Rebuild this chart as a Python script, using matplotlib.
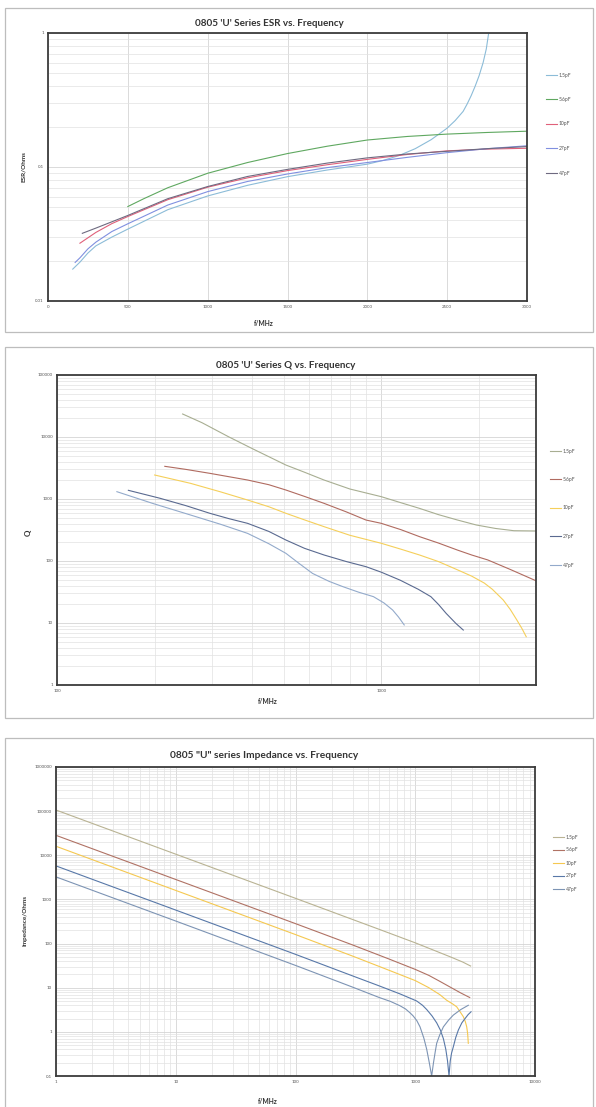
import numpy as np
import matplotlib
matplotlib.use('Agg')
from matplotlib import pyplot as plt
from matplotlib.patches import Rectangle
from matplotlib.ticker import LogLocator, NullFormatter, FixedLocator

plt.rcParams['font.family'] = ['Lato', 'DejaVu Sans']

labels = ['1.5pF', '5.6pF', '10pF', '27pF', '47pF']

# ESR vs frequency (MHz, Ohms)
esr_f = {
    '1.5pF': [155, 200, 250, 300, 400, 500, 750, 1000, 1250, 1500, 1750, 2000, 2100, 2200, 2300,
              2400, 2500, 2550, 2600, 2625, 2650, 2675, 2700, 2725, 2745, 2760],
    '5.6pF': [500, 600, 750, 1000, 1250, 1500, 1750, 2000, 2250, 2500, 2750, 3000],
    '10pF': [200, 300, 400, 500, 750, 1000, 1250, 1500, 1750, 2000, 2250, 2500, 2750, 3000],
    '27pF': [170, 200, 250, 300, 400, 500, 750, 1000, 1250, 1500, 1750, 2000, 2250, 2500, 2750, 3000],
    '47pF': [215, 300, 400, 500, 750, 1000, 1250, 1500, 1750, 2000, 2250, 2500, 2750, 3000],
}
esr_v = {
    '1.5pF': [0.0173, 0.0195, 0.0228, 0.0258, 0.030, 0.0344, 0.048, 0.0608, 0.073, 0.0847, 0.095, 0.105,
              0.112, 0.122, 0.137, 0.160, 0.195, 0.222, 0.26, 0.295, 0.34, 0.40, 0.48, 0.60, 0.76, 1.0],
    '5.6pF': [0.0507, 0.058, 0.070, 0.0898, 0.108, 0.126, 0.143, 0.159, 0.169, 0.176, 0.181, 0.185],
    '10pF': [0.027, 0.0325, 0.0378, 0.0427, 0.057, 0.0707, 0.083, 0.094, 0.104, 0.114, 0.124, 0.132, 0.136, 0.138],
    '27pF': [0.0194, 0.021, 0.0245, 0.0275, 0.033, 0.0377, 0.052, 0.0655, 0.078, 0.0887, 0.099, 0.108,
             0.118, 0.128, 0.137, 0.144],
    '47pF': [0.032, 0.035, 0.039, 0.0435, 0.058, 0.0715, 0.085, 0.096, 0.107, 0.117, 0.125, 0.131, 0.137, 0.142],
}
esr_colors = ['#8cbcd8', '#5fa860', '#e0607a', '#8090e0', '#6e6a80']

# Q vs frequency
q_f = {
    '1.5pF': [244, 280, 338, 400, 508, 580, 666, 800, 1000, 1150, 1312, 1500, 1718, 1963, 2250, 2565, 3000],
    '5.6pF': [215, 250, 296, 387, 450, 508, 580, 666, 780, 897, 1000, 1150, 1312, 1500, 1718, 1900, 2130, 2500, 3000],
    '10pF': [200, 258, 320, 387, 450, 508, 580, 666, 800, 1000, 1150, 1312, 1500, 1718, 1900, 2079, 2200,
             2377, 2500, 2618, 2720, 2799],
    '27pF': [166, 208, 250, 296, 340, 387, 450, 508, 580, 666, 780, 897, 1000, 1144, 1300, 1422, 1500,
             1585, 1700, 1790],
    '47pF': [153, 197, 258, 320, 387, 450, 508, 560, 614, 690, 762, 850, 946, 1020, 1084, 1130, 1177],
}
q_v = {
    '1.5pF': [23500, 17000, 10100, 6500, 3530, 2700, 2024, 1450, 1090, 870, 706, 560, 458, 381, 335, 308, 305],
    '5.6pF': [3365, 3000, 2594, 2024, 1700, 1396, 1100, 851, 620, 458, 405, 320, 247, 195, 150, 125, 104, 73, 48],
    '10pF': [2438, 1790, 1300, 963, 750, 588, 460, 358, 260, 193, 155, 125, 98, 72, 57, 44, 35,
             23.5, 16.5, 11.2, 8.0, 6.0],
    '27pF': [1380, 1026, 780, 588, 480, 405, 300, 218, 160, 125, 98, 81, 66, 49, 35, 26.6, 20,
             14.3, 9.8, 7.7],
    '47pF': [1312, 851, 552, 390, 279, 190, 133, 90, 63, 47, 38.5, 31.5, 26.6, 21, 16.2, 12.5, 9.3],
}
q_colors = ['#a8ae92', '#b06b60', '#f5cf5a', '#5a6a90', '#93aacb']

# Impedance vs frequency
z_f = {
    '1.5pF': [1, 10, 100, 500, 1000, 1500, 2000, 2500, 2900],
    '5.6pF': [1, 10, 100, 300, 600, 1000, 1300, 1600, 2000, 2400, 2850],
    '10pF': [1, 10, 100, 300, 600, 1000, 1300, 1600, 1830, 2050, 2218, 2400, 2523, 2620, 2690, 2740, 2773],
    '27pF': [1, 10, 100, 300, 500, 750, 1028, 1150, 1247, 1380, 1510, 1620, 1718, 1800, 1860, 1914,
             1960, 2010, 2080, 2180, 2291, 2450, 2606, 2760, 2924],
    '47pF': [1, 10, 100, 300, 500, 620, 746, 830, 904, 960, 1030, 1096, 1180, 1247, 1310, 1371, 1420,
             1470, 1510, 1600, 1718, 1900, 2080, 2400, 2773],
}
z_v = {
    '1.5pF': [106000, 10600, 1060, 210, 104, 67, 49, 38, 31],
    '5.6pF': [28300, 2830, 283, 93, 45, 26, 19, 14, 10, 7.6, 6.0],
    '10pF': [16000, 1600, 160, 52, 25, 14.5, 10, 7.0, 5.2, 4.3, 3.7, 2.7, 2.2, 1.7, 1.3, 0.9, 0.55],
    '27pF': [5740, 574, 57, 18.5, 11, 7.2, 5.0, 4.0, 3.2, 2.3, 1.6, 1.1, 0.7, 0.4, 0.22, 0.1,
             0.22, 0.33, 0.46, 0.75, 1.1, 1.6, 2.0, 2.45, 2.85],
    '47pF': [3240, 324, 32, 10.3, 6.0, 4.9, 3.9, 3.3, 2.7, 2.3, 1.8, 1.3, 0.72, 0.4, 0.2, 0.1, 0.2,
             0.36, 0.55, 0.85, 1.3, 1.85, 2.4, 3.2, 4.0],
}
z_colors = ['#b9b393', '#b07264', '#f5c850', '#5878a8', '#7d94b4']

W, H = 596, 1107
fig = plt.figure(figsize=(W / 100, H / 100), dpi=100)

def fx(px):
    return px / W

def fy(py):
    return 1 - py / H

# panel borders
for top, bot in [(8, 332), (347, 718), (738, 1110)]:
    fig.patches.append(Rectangle((fx(5), fy(bot)), fx(588), (bot - top) / H,
                                 transform=fig.transFigure, fill=False,
                                 edgecolor='#bdbdbd', lw=0.9))

def style(ax):
    for s in ax.spines.values():
        s.set_color('#3c3c3c')
        s.set_linewidth(1.3)
    ax.tick_params(which='both', length=0, labelsize=3.2, colors='#555555', pad=3)
    ax.grid(which='major', color='#d4d4d4', lw=0.6)
    ax.grid(which='minor', color='#e2e2e2', lw=0.5)
    ax.set_axisbelow(True)

def leg(ax, handles, x, y, spacing):
    fig.legend(handles=handles, labels=labels, loc='center left',
               bbox_to_anchor=(fx(x), fy(y)), frameon=False, fontsize=3.6,
               handlelength=2.2, handletextpad=0.4, labelspacing=spacing,
               labelcolor='#555555')

# ---- ESR ----
ax1 = fig.add_axes([fx(48), fy(301), fx(527 - 48), (301 - 33) / H])
h = []
for lab, c in zip(labels, esr_colors):
    l, = ax1.plot(esr_f[lab], esr_v[lab], color=c, lw=0.8)
    h.append(l)
ax1.set_yscale('log')
ax1.set_xlim(0, 3000)
ax1.set_ylim(0.01, 1)
ax1.set_xticks(range(0, 3001, 500))
ax1.set_yticks([0.01, 0.1, 1])
ax1.set_yticklabels(['0.01', '0.1', '1'])
ax1.yaxis.set_minor_locator(LogLocator(base=10, subs=np.arange(2, 10)))
ax1.yaxis.set_minor_formatter(NullFormatter())
style(ax1)
fig.text(fx(269), fy(24), "0805 'U' Series ESR vs. Frequency", ha='center', va='center',
         fontsize=7.1, fontweight='bold', color='#333333')
fig.text(fx(264), fy(323), 'f/MHz', ha='center', va='center', fontsize=4.8,
         fontweight='bold', color='#333333')
fig.text(fx(23), fy(167), 'ESR/Ohms', ha='center', va='center', rotation=90,
         fontsize=4.6, fontweight='bold', color='#333333')
leg(ax1, h, 541, 124, 3.9)

# ---- Q ----
ax2 = fig.add_axes([fx(57), fy(685), fx(536 - 57), (685 - 375) / H])
h = []
for lab, c in zip(labels, q_colors):
    l, = ax2.plot(q_f[lab], q_v[lab], color=c, lw=0.8)
    h.append(l)
ax2.set_xscale('log')
ax2.set_yscale('log')
ax2.set_xlim(100, 3000)
ax2.set_ylim(1, 100000)
ax2.set_xticks([100, 1000])
ax2.set_xticklabels(['100', '1000'])
ax2.xaxis.set_minor_locator(FixedLocator([200, 300, 400, 500, 600, 700, 800, 900, 2000, 3000]))
ax2.xaxis.set_minor_formatter(NullFormatter())
ax2.set_yticks([1, 10, 100, 1000, 10000, 100000])
ax2.set_yticklabels(['1', '10', '100', '1000', '10000', '100000'])
ax2.yaxis.set_minor_locator(LogLocator(base=10, subs=np.arange(2, 10)))
ax2.yaxis.set_minor_formatter(NullFormatter())
style(ax2)
fig.text(fx(286), fy(366), "0805 'U' Series Q vs. Frequency", ha='center', va='center',
         fontsize=7.1, fontweight='bold', color='#333333')
fig.text(fx(268), fy(702), 'f/MHz', ha='center', va='center', fontsize=4.8,
         fontweight='bold', color='#333333')
fig.text(fx(28), fy(533), 'Q', ha='center', va='center', rotation=90,
         fontsize=5.8, fontweight='bold', color='#333333')
leg(ax2, h, 545, 508, 4.7)

# ---- Impedance ----
ax3 = fig.add_axes([fx(56), fy(1076), fx(535 - 56), (1076 - 767) / H])
h = []
for lab, c in zip(labels, z_colors):
    l, = ax3.plot(z_f[lab], z_v[lab], color=c, lw=0.8)
    h.append(l)
ax3.set_xscale('log')
ax3.set_yscale('log')
ax3.set_xlim(1, 10000)
ax3.set_ylim(0.1, 1000000)
ax3.set_xticks([1, 10, 100, 1000, 10000])
ax3.set_xticklabels(['1', '10', '100', '1000', '10000'])
ax3.set_yticks([0.1, 1, 10, 100, 1000, 10000, 100000, 1000000])
ax3.set_yticklabels(['0.1', '1', '10', '100', '1000', '10000', '100000', '1000000'])
for a in (ax3.xaxis, ax3.yaxis):
    a.set_minor_locator(LogLocator(base=10, subs=np.arange(2, 10)))
    a.set_minor_formatter(NullFormatter())
style(ax3)
fig.text(fx(264), fy(756), '0805 "U" series Impedance vs. Frequency', ha='center', va='center',
         fontsize=7.3, fontweight='bold', color='#333333')
fig.text(fx(268), fy(1101), 'f/MHz', ha='center', va='center', fontsize=4.8,
         fontweight='bold', color='#333333')
fig.text(fx(25), fy(921), 'Impedance/Ohms', ha='center', va='center', rotation=90,
         fontsize=4.6, fontweight='bold', color='#333333')
leg(ax3, h, 548, 863, 1.6)

fig.savefig('out.png', dpi=100, facecolor='white')
